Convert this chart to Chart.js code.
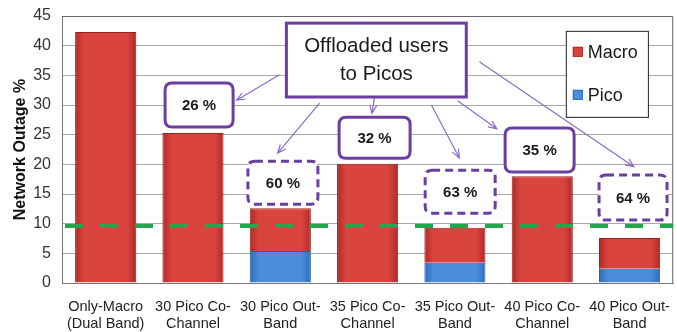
<!DOCTYPE html>
<html>
<head>
<meta charset="utf-8">
<script src="https://cdn.jsdelivr.net/npm/chart.js@4"></script>
<style>
  html, body { margin: 0; padding: 0; background: #fff; }
  canvas { display: block; }
</style>
</head>
<body>
<canvas id="chart" width="677" height="332"></canvas>
<script>
// categories and values
const categories = [
    ['Only-Macro', '(Dual Band)'],
    ['30 Pico Co-', 'Channel'],
    ['30 Pico Out-', 'Band'],
    ['35 Pico Co-', 'Channel'],
    ['35 Pico Out-', 'Band'],
    ['40 Pico Co-', 'Channel'],
    ['40 Pico Out-', 'Band']
];
const picoValues = [0, 0, 5.4, 0, 3.4, 0, 2.4];
const macroValues = [42.3, 25.3, 7.2, 20.1, 5.9, 18.0, 5.2];
const yTicks = [0, 5, 10, 15, 20, 25, 30, 35, 40, 45];
const threshold = 9.6;

// callouts (x in category units, y in outage %)
const callouts = [
    { text: '26 %', x: 1.07, y: 30.0, dashed: false, w: 68, h: 44 },
    { text: '60 %', x: 2.03, y: 16.9, dashed: true, w: 70, h: 43 },
    { text: '32 %', x: 3.08, y: 24.5, dashed: false, w: 71, h: 41 },
    { text: '63 %', x: 4.06, y: 15.4, dashed: true, w: 70, h: 43 },
    { text: '35 %', x: 4.97, y: 22.4, dashed: false, w: 69, h: 44 },
    { text: '64 %', x: 6.04, y: 14.4, dashed: true, w: 68, h: 45 }
];
const arrows = [
    [1.99, 35.1, 1.50, 30.8],
    [2.45, 30.3, 1.97, 21.9],
    [3.08, 31.4, 3.05, 28.6],
    [3.73, 30.0, 4.05, 21.1],
    [4.03, 30.7, 4.48, 26.0],
    [4.28, 37.3, 6.05, 19.6]
];
const titleLines = ['Offloaded users', 'to Picos'];

const MACRO = ['#b02a26', '#da443f', '#b02a26'];
const PICO = ['#2f6cb8', '#4a8ddc', '#2f6cb8'];
const PURPLE = '#6b3fa0';
const FONT = '"Liberation Sans", Arial, sans-serif';

// horizontal shading per bar, built from the x scale
function barShade(stops) {
    return ctx => {
        const xs = ctx.chart.scales.x;
        if (!ctx.chart.chartArea || !xs || !xs.width) return stops[1];
        const cx = xs.getPixelForValue(ctx.dataIndex);
        const half = xs.width / categories.length * 0.35;
        const g = ctx.chart.ctx.createLinearGradient(cx - half, 0, cx + half, 0);
        g.addColorStop(0, stops[0]);
        g.addColorStop(0.15, stops[1]);
        g.addColorStop(0.85, stops[1]);
        g.addColorStop(1, stops[2]);
        return g;
    };
}

function roundRect(ctx, x, y, w, h, r) {
    ctx.beginPath();
    ctx.moveTo(x + r, y);
    ctx.lineTo(x + w - r, y);
    ctx.quadraticCurveTo(x + w, y, x + w, y + r);
    ctx.lineTo(x + w, y + h - r);
    ctx.quadraticCurveTo(x + w, y + h, x + w - r, y + h);
    ctx.lineTo(x + r, y + h);
    ctx.quadraticCurveTo(x, y + h, x, y + h - r);
    ctx.lineTo(x, y + r);
    ctx.quadraticCurveTo(x, y, x + r, y);
    ctx.closePath();
}

const overlay = {
    id: 'overlay',
    afterDatasetsDraw(chart) {
        const ctx = chart.ctx;
        const xs = chart.scales.x, ys = chart.scales.y;
        const area = chart.chartArea;
        const px = v => xs.getPixelForValue(v);
        const py = v => ys.getPixelForValue(v);
        ctx.save();

        // frame on top / right
        ctx.strokeStyle = '#666';
        ctx.lineWidth = 1;
        ctx.beginPath();
        ctx.moveTo(area.left, area.top + 0.5);
        ctx.lineTo(area.right - 0.5, area.top + 0.5);
        ctx.lineTo(area.right - 0.5, area.bottom);
        ctx.stroke();

        // target line
        ctx.strokeStyle = '#25a64c';
        ctx.lineWidth = 4;
        ctx.setLineDash([18, 17]);
        ctx.lineDashOffset = -3;
        ctx.beginPath();
        ctx.moveTo(area.left, py(threshold));
        ctx.lineTo(area.right, py(threshold));
        ctx.stroke();
        ctx.setLineDash([]);
        ctx.lineDashOffset = 0;

        // arrows
        ctx.strokeStyle = '#8c6cc4';
        ctx.lineWidth = 1.2;
        arrows.forEach(([x1, y1, x2, y2]) => {
            const ax = px(x1), ay = py(y1), bx = px(x2), by = py(y2);
            const ang = Math.atan2(by - ay, bx - ax);
            ctx.beginPath();
            ctx.moveTo(ax, ay);
            ctx.lineTo(bx, by);
            ctx.moveTo(bx - 9 * Math.cos(ang - 0.4), by - 9 * Math.sin(ang - 0.4));
            ctx.lineTo(bx, by);
            ctx.lineTo(bx - 9 * Math.cos(ang + 0.4), by - 9 * Math.sin(ang + 0.4));
            ctx.stroke();
        });

        // callout boxes
        callouts.forEach(c => {
            const cx = px(c.x), cy = py(c.y);
            roundRect(ctx, cx - c.w / 2, cy - c.h / 2, c.w, c.h, 7);
            ctx.fillStyle = '#fff';
            ctx.fill();
            ctx.strokeStyle = PURPLE;
            ctx.lineWidth = 3;
            ctx.setLineDash(c.dashed ? [8, 5] : []);
            ctx.stroke();
            ctx.setLineDash([]);
            ctx.fillStyle = '#1a1a1a';
            ctx.font = 'bold 15px ' + FONT;
            ctx.textAlign = 'center';
            ctx.textBaseline = 'middle';
            ctx.fillText(c.text, cx, cy + 1);
        });

        // title box
        const tl = px(2.07), tr = px(4.13), tt = py(43.8), tb = py(31.35);
        ctx.fillStyle = '#fff';
        ctx.fillRect(tl, tt, tr - tl, tb - tt);
        ctx.strokeStyle = PURPLE;
        ctx.lineWidth = 3;
        ctx.strokeRect(tl, tt, tr - tl, tb - tt);
        ctx.fillStyle = '#1a1a1a';
        ctx.font = '20.5px ' + FONT;
        ctx.textAlign = 'center';
        ctx.textBaseline = 'middle';
        ctx.fillText(titleLines[0], (tl + tr) / 2, tt + 23);
        ctx.fillText(titleLines[1], (tl + tr) / 2, tt + 51);

        // legend box
        const ll = px(5.27), lr = px(6.21), lt = py(42.5), lb = py(28.0);
        ctx.fillStyle = '#fff';
        ctx.fillRect(ll, lt, lr - ll, lb - lt);
        ctx.strokeStyle = '#222';
        ctx.lineWidth = 1;
        ctx.strokeRect(ll + 0.5, lt + 0.5, lr - ll, lb - lt);
        const entries = [[chart.data.datasets[1], MACRO], [chart.data.datasets[0], PICO]];
        ctx.font = '18px ' + FONT;
        ctx.textAlign = 'left';
        entries.forEach(([ds, stops], i) => {
            const ey = lt + 21 + i * 43;
            ctx.fillStyle = stops[1];
            ctx.fillRect(ll + 7, ey - 5, 10, 10);
            ctx.strokeStyle = stops[0];
            ctx.strokeRect(ll + 7.5, ey - 4.5, 9, 9);
            ctx.fillStyle = '#1a1a1a';
            ctx.fillText(ds.label, ll + 22, ey + 1);
        });
        ctx.restore();
    }
};

new Chart(document.getElementById('chart'), {
    type: 'bar',
    data: {
        labels: categories,
        datasets: [
            {
                label: 'Pico',
                data: picoValues,
                backgroundColor: barShade(PICO),
                borderColor: '#2a5e9e',
                borderWidth: 1,
                barPercentage: 0.7,
                categoryPercentage: 1
            },
            {
                label: 'Macro',
                data: macroValues,
                backgroundColor: barShade(MACRO),
                borderColor: '#9a221e',
                borderWidth: 1,
                barPercentage: 0.7,
                categoryPercentage: 1
            }
        ]
    },
    options: {
        responsive: false,
        animation: false,
        devicePixelRatio: 1,
        layout: { padding: { top: 16, right: 2, left: 11, bottom: 0 } },
        plugins: {
            legend: { display: false },
            tooltip: { enabled: false }
        },
        scales: {
            x: {
                stacked: true,
                grid: { display: false },
                border: { color: '#777' },
                ticks: {
                    color: '#222',
                    font: { family: FONT, size: 14.5 },
                    maxRotation: 0,
                    autoSkip: false,
                    padding: 7
                },
                afterFit: s => { s.height = 49; }
            },
            y: {
                stacked: true,
                min: 0,
                max: 45,
                afterBuildTicks: s => { s.ticks = yTicks.map(v => ({ value: v })); },
                grid: { color: '#a8a8a8', drawTicks: false },
                border: { color: '#777' },
                ticks: {
                    color: '#333',
                    font: { family: FONT, size: 16 },
                    padding: 11
                },
                title: {
                    display: true,
                    text: 'Network Outage %',
                    color: '#111',
                    font: { family: FONT, size: 16, weight: 'bold' },
                    padding: 0
                },
                afterFit: s => {
                    s.width = 51;
                    s.paddingTop = 0;
                    s.paddingBottom = 0;
                }
            }
        }
    },
    plugins: [overlay]
});
</script>
</body>
</html>
